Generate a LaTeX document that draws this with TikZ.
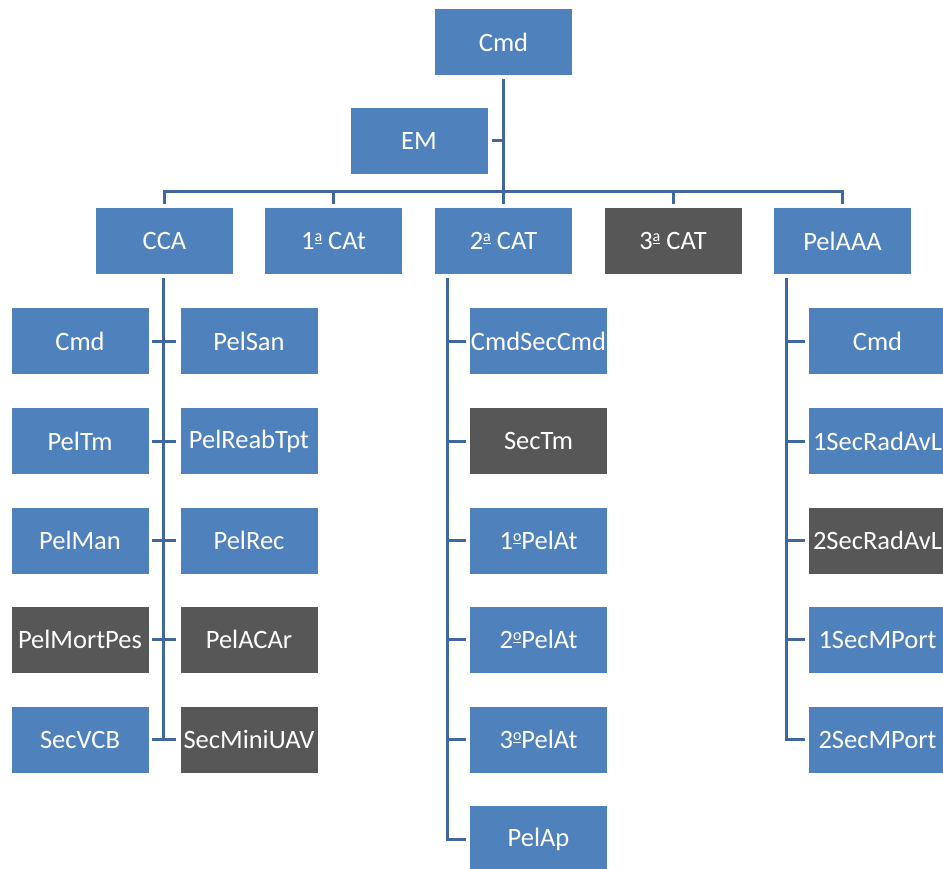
\documentclass[tikz,border=0pt]{standalone}
\usepackage{fontspec}
\setmainfont{Carlito}
\definecolor{boxblue}{HTML}{4F81BD}
\definecolor{boxgray}{HTML}{575757}
\definecolor{linecol}{HTML}{41689E}
\newcommand\myord[1]{\smash{\raisebox{0.3em}{\fontsize{16}{16}\selectfont\setlength\fboxsep{0pt}\underline{#1}}}}
\begin{document}
\begin{tikzpicture}[x=1pt,y=-1pt,
  box/.style={fill=boxblue,text=white,minimum width=137pt,minimum height=66pt,inner sep=0pt,font=\fontsize{26.5}{30}\selectfont},
  gbox/.style={box,fill=boxgray},
  conn/.style={draw=linecol,line width=3pt}]
\useasboundingbox (0,0) rectangle (943,869);
\clip (0,0) rectangle (943,869);
% top
\node[box] (cmd) at (503.5,42) {Cmd};
\node[box] (em) at (419,141) {EM};
\coordinate (bus) at (0,192);
\coordinate (stub) at (0,204);
% level 2
\node[box] (cca) at (164.5,241) {CCA};
\node[box] (cat1) at (333.5,241) {1\myord{a} CAt};
\node[box] (cat2) at (503.5,241) {2\myord{a} CAT};
\node[gbox] (cat3) at (673,241) {3\myord{a} CAT};
\node[box] (pelaaa) at (842.5,241) {PelAAA};
% CCA children
\node[box] (a1) at (80,341) {Cmd};
\node[box] (a2) at (80,441) {PelTm};
\node[box] (a3) at (80,540.5) {PelMan};
\node[gbox] (a4) at (80,639.5) {PelMortPes};
\node[box] (a5) at (80,739.5) {SecVCB};
\node[box] (b1) at (249,341) {PelSan};
\node[box] (b2) at (249,441) {PelReabTpt};
\node[box] (b3) at (249,540.5) {PelRec};
\node[gbox] (b4) at (249,639.5) {PelACAr};
\node[gbox] (b5) at (249,739.5) {SecMiniUAV};
% 2a CAT children
\node[box] (c1) at (538.5,341) {CmdSecCmd};
\node[gbox] (c2) at (538.5,441) {SecTm};
\node[box] (c3) at (538.5,540.5) {1\myord{o}PelAt};
\node[box] (c4) at (538.5,639.5) {2\myord{o}PelAt};
\node[box] (c5) at (538.5,739.5) {3\myord{o}PelAt};
\node[box] (c6) at (538.5,839) {PelAp};
% PelAAA children
\node[box] (d1) at (877.5,341) {Cmd};
\node[box] (d2) at (877.5,441) {1SecRadAvL};
\node[gbox] (d3) at (877.5,540.5) {2SecRadAvL};
\node[box] (d4) at (877.5,639.5) {1SecMPort};
\node[box] (d5) at (877.5,739.5) {2SecMPort};
% connectors top
\draw[conn] ([yshift=-4pt]cmd.south) -- (cmd.south |- stub);
\draw[conn] ([xshift=4pt]em.east) -- (em.east -| cmd.south);
\draw[conn] ([xshift=-1.5pt]cca.north |- bus) -- ([xshift=1.5pt]pelaaa.north |- bus);
\foreach \n in {cca,cat1,cat3,pelaaa}{
  \draw[conn] ([yshift=1.5pt]\n.north |- bus) -- ([yshift=4pt]\n.north);
}
% CCA
\draw[conn] ([xshift=-1.5pt,yshift=-4pt]cca.south) -- ([xshift=-1.5pt]cca.south |- a5.east);
\foreach \i in {1,...,5}{
  \draw[conn] ([xshift=3pt]a\i.east) -- ([xshift=-4pt]b\i.west);
}
% 2a CAT
\coordinate (t2) at ([xshift=13pt,yshift=-4pt]cat2.south west);
\draw[conn] (t2) |- ([xshift=-4pt]c6.west);
\foreach \i in {1,...,5}{
  \draw[conn] (t2 |- c\i.west) -- ([xshift=-4pt]c\i.west);
}
% PelAAA
\coordinate (t3) at ([xshift=13pt,yshift=-4pt]pelaaa.south west);
\draw[conn] (t3) |- ([xshift=-4pt]d5.west);
\foreach \i in {1,...,4}{
  \draw[conn] (t3 |- d\i.west) -- ([xshift=-4pt]d\i.west);
}
\end{tikzpicture}
\end{document}
